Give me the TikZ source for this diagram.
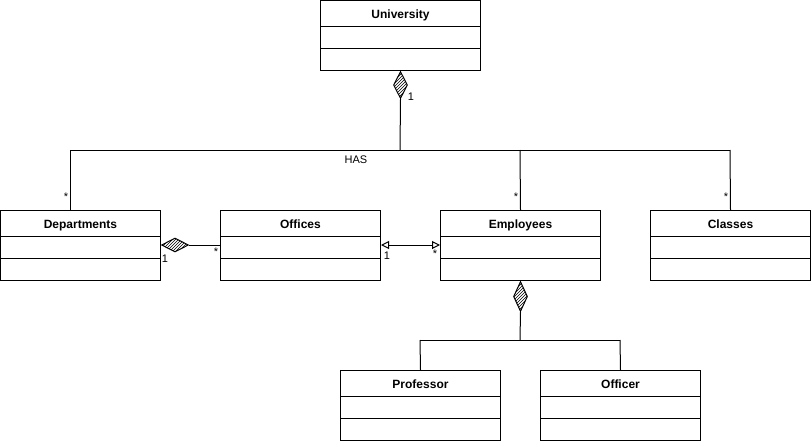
\documentclass[tikz,border=0pt]{standalone}
\usepackage{fontspec}
\setmainfont{Liberation Sans}
\usetikzlibrary{shapes.geometric,patterns,arrows.meta,calc}
\newcommand\umlcls[4]{%
  \node[cls] (#1) at (#2,#3) {};
  \node[ttl] (#1t) at ($(#1.north)+(0,18.5)$) {#4};
  \draw ($(#1.north west)+(0,26)$) -- ($(#1.north east)+(0,26)$);
  \draw ($(#1.north west)+(0,48)$) -- ($(#1.north east)+(0,48)$);
}
\begin{document}
\begin{tikzpicture}[x=1pt,y=-1pt,line width=1pt,
  cls/.style={draw, minimum width=160pt, minimum height=70pt, anchor=north west, inner sep=0pt},
  ttl/.style={font=\bfseries\fontsize{12}{14}\selectfont, anchor=base},
  lbl/.style={font=\fontsize{11}{13}\selectfont, inner sep=0pt},
  vdia/.style={draw, diamond, minimum width=14pt, minimum height=27pt, inner sep=0pt, pattern=north east lines, anchor=north},
  hdia/.style={draw, diamond, minimum width=27pt, minimum height=14pt, inner sep=0pt, pattern=north east lines, anchor=west},
  opentri/.style={{Triangle[open,length=8pt,width=8pt]}-{Triangle[open,length=8pt,width=8pt]}}
]
\useasboundingbox (0,0) rectangle (811,442);
\umlcls{uni}{320}{0}{University}
\umlcls{dep}{0}{210}{Departments}
\umlcls{off}{220}{210}{Offices}
\umlcls{emp}{440}{210}{Employees}
\umlcls{cla}{650}{210}{Classes}
\umlcls{pro}{340}{370}{Professor}
\umlcls{ocr}{540}{370}{Officer}

% University composition
\node[vdia] (d1) at (uni.south) {};
\coordinate (has) at (400,150);
\coordinate (hl) at (70,150);
\coordinate (hr) at (730,150);
\coordinate (he) at (520,150);
\draw (d1.south) -- (has);
\draw (hl) -- (hr);
\draw (hl) -- (hl |- dep.north);
\draw (he) -- (emp.north);
\draw (hr) -- (cla.north);
\node[lbl] (l1) at (411,97) {1};
\node[font=\fontsize{11}{13}\selectfont] (hast) at (356,160) {HAS};
\node[lbl] (s1) at (66,197) {*};
\node[lbl] (s2) at (516,197) {*};
\node[lbl] (s3) at (726,197) {*};

% Departments - Offices
\node[hdia] (d2) at ($(dep.north east)+(0,35)$) {};
\draw (d2.east) -- (off.west |- d2.east);
\node[lbl] (l2) at (165,259) {1};
\node[lbl] (s4) at (216,252) {*};

% Offices - Employees
\draw[opentri] ($(off.north east)+(0,35)$) -- ($(emp.north west)+(0,35)$);
\node[lbl] (l3) at (387,256) {1};
\node[lbl] (s5) at (435,254) {*};

% Employees composition
\node[vdia, minimum height=30pt] (d3) at (emp.south) {};
\coordinate (ec) at (520,340);
\coordinate (el) at (420,340);
\coordinate (er) at (620,340);
\draw (d3.south) -- (ec);
\draw (el) -- (er);
\draw (el) -- (pro.north);
\draw (er) -- (ocr.north);
\end{tikzpicture}
\end{document}
